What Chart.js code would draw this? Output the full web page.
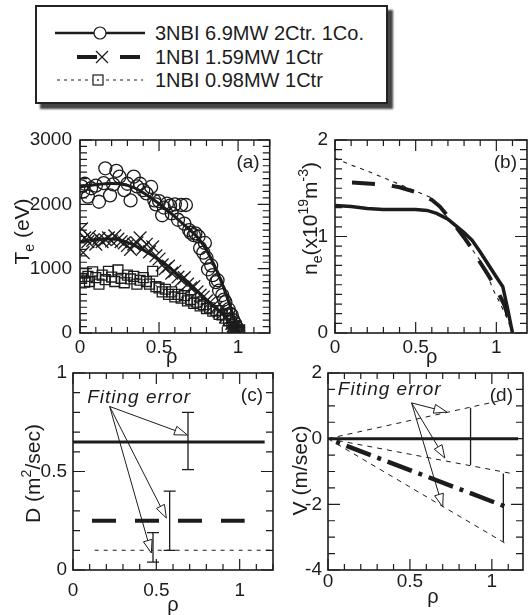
<!DOCTYPE html>
<html>
<head>
<meta charset="utf-8">
<script src="https://cdn.jsdelivr.net/npm/chart.js@4.4.1/dist/chart.umd.min.js"></script>
<style>
  body { margin: 0; background: #fff; width: 530px; height: 615px; position: relative; overflow: hidden; }
  canvas { position: absolute; }
  #legend { position: absolute; left: 35px; top: 5px; width: 349px; height: 95px;
            border: 2px solid #222; box-shadow: 5px 5px 2px #444; background: #fff; }
  #legend text { font: 20px "Liberation Sans", Arial, sans-serif; fill: #1c1c1c; }
</style>
</head>
<body>
<div id="legend">
  <svg width="349" height="95">
    <line x1="18" y1="26" x2="108" y2="26" stroke="#1c1c1c" stroke-width="2.5"/>
    <circle cx="63" cy="26" r="6" fill="#fff" stroke="#1c1c1c" stroke-width="1.2"/>
    <text x="118" y="26" dominant-baseline="central">3NBI 6.9MW 2Ctr. 1Co.</text>

    <line x1="40" y1="50" x2="60" y2="50" stroke="#1c1c1c" stroke-width="4"/>
    <path d="M59 44 L71 56 M71 44 L59 56" stroke="#1c1c1c" stroke-width="1.3"/>
    <line x1="83" y1="50" x2="103" y2="50" stroke="#1c1c1c" stroke-width="4"/>
    <text x="118" y="50" dominant-baseline="central">1NBI 1.59MW 1Ctr</text>

    <line x1="20" y1="73" x2="106" y2="73" stroke="#1c1c1c" stroke-width="1" stroke-dasharray="3,4"/>
    <rect x="56" y="68" width="10" height="10" fill="#fff" stroke="#1c1c1c" stroke-width="1.2"/>
    <circle cx="61" cy="73" r="0.9" fill="#1c1c1c"/>
    <text x="118" y="73" dominant-baseline="central">1NBI 0.98MW 1Ctr</text>
  </svg>
</div>
<canvas id="pa" width="280" height="252" style="left:0;top:120px"></canvas>
<canvas id="pb" width="250" height="252" style="left:280px;top:120px"></canvas>
<canvas id="pc" width="280" height="260" style="left:0;top:355px"></canvas>
<canvas id="pd" width="250" height="260" style="left:280px;top:355px"></canvas>
<script>
const FONT = '"Liberation Sans", Arial, Helvetica, sans-serif';
const INK = '#1c1c1c';

// shared x ticks (rho)
const xTicks = [0, 0.5, 1];

// ---- (a) electron temperature ----
const aYTicks = [0, 1000, 2000, 3000];
const aFitRho = [0, 0.05, 0.1, 0.15, 0.2, 0.25, 0.3, 0.35, 0.4, 0.45, 0.5, 0.55, 0.6, 0.65, 0.7, 0.75, 0.8, 0.85, 0.9, 0.95, 1.0];
const aFit3NBI = [2270, 2290, 2305, 2318, 2325, 2320, 2295, 2250, 2180, 2100, 2010, 1910, 1810, 1700, 1590, 1470, 1290, 1050, 760, 420, 0];
const aFit159 = [1420, 1440, 1455, 1462, 1460, 1445, 1410, 1355, 1290, 1215, 1135, 1045, 945, 840, 735, 630, 520, 410, 300, 170, 0];
const aFit098 = [880, 885, 890, 890, 885, 875, 865, 850, 830, 780, 710, 650, 590, 550, 510, 460, 400, 350, 290, 180, 0];

const circRho = [0.01, 0.02, 0.03, 0.05, 0.07, 0.10, 0.12, 0.15, 0.16, 0.19, 0.21, 0.23, 0.25, 0.28, 0.30, 0.32, 0.34, 0.36, 0.38, 0.40, 0.42, 0.45, 0.47, 0.48, 0.50, 0.52, 0.53, 0.55, 0.57, 0.58, 0.60, 0.62, 0.64, 0.66, 0.67, 0.69, 0.70, 0.72, 0.73, 0.75, 0.76, 0.78, 0.79, 0.80, 0.81, 0.83, 0.84, 0.86, 0.87, 0.88, 0.90, 0.91, 0.92, 0.94, 0.95, 0.96, 0.97, 0.98, 0.99, 1.00];
const circTe = [2280, 2200, 2320, 2120, 2250, 2290, 2040, 2330, 2560, 2140, 2310, 2520, 2430, 2220, 2320, 2060, 2430, 2280, 2320, 2220, 2170, 2270, 2060, 2000, 2050, 1830, 1950, 2010, 1980, 1860, 2000, 1760, 1990, 1700, 1990, 1600, 1560, 1520, 1550, 1500, 1320, 1250, 1400, 1170, 990, 1050, 900, 790, 820, 660, 590, 520, 480, 370, 300, 280, 200, 150, 90, 30];

const crossRho = [0.01, 0.02, 0.03, 0.05, 0.06, 0.08, 0.10, 0.12, 0.14, 0.16, 0.18, 0.20, 0.22, 0.24, 0.26, 0.28, 0.30, 0.32, 0.34, 0.36, 0.38, 0.40, 0.42, 0.44, 0.46, 0.48, 0.50, 0.52, 0.54, 0.56, 0.58, 0.60, 0.62, 0.64, 0.66, 0.68, 0.70, 0.72, 0.74, 0.76, 0.78, 0.80, 0.82, 0.84, 0.86, 0.88, 0.90, 0.92, 0.94, 0.96, 0.97, 0.98, 0.99, 1.00];
const crossTe = [1620, 1250, 1480, 1420, 1500, 1440, 1380, 1470, 1420, 1450, 1480, 1430, 1510, 1460, 1420, 1400, 1360, 1300, 1380, 1400, 1480, 1320, 1380, 1260, 1340, 1200, 1150, 1060, 1000, 1040, 930, 960, 870, 820, 860, 760, 700, 720, 640, 590, 560, 500, 470, 420, 390, 330, 300, 250, 200, 150, 110, 90, 50, 20];

const sqRho = [0.01, 0.02, 0.03, 0.05, 0.06, 0.08, 0.10, 0.12, 0.14, 0.16, 0.18, 0.20, 0.22, 0.24, 0.26, 0.28, 0.30, 0.32, 0.34, 0.36, 0.38, 0.40, 0.42, 0.44, 0.46, 0.48, 0.50, 0.52, 0.54, 0.56, 0.58, 0.60, 0.62, 0.64, 0.66, 0.68, 0.70, 0.72, 0.74, 0.76, 0.78, 0.80, 0.82, 0.84, 0.86, 0.88, 0.90, 0.92, 0.94, 0.96, 0.97, 0.98, 0.99, 1.00, 1.00, 1.01];
const sqTe = [850, 930, 790, 880, 800, 950, 860, 760, 900, 830, 960, 870, 800, 980, 850, 780, 900, 840, 880, 760, 820, 860, 800, 760, 960, 720, 700, 640, 680, 600, 640, 560, 600, 540, 580, 500, 520, 460, 480, 420, 440, 380, 390, 340, 350, 290, 280, 230, 190, 140, 90, 60, 100, 30, 10, 50];

// ---- (b) electron density ----
const bYTicks = [0, 1, 2];
const bSolidRho = [0, 0.1, 0.2, 0.3, 0.4, 0.5, 0.57, 0.63, 0.7, 0.75, 0.8, 0.85, 0.9, 0.95, 1.0, 1.04, 1.07, 1.1];
const bSolid = [1.32, 1.31, 1.29, 1.28, 1.28, 1.28, 1.27, 1.24, 1.18, 1.11, 1.04, 0.96, 0.84, 0.71, 0.58, 0.48, 0.25, 0];
const bDashRho = [0, 0.1, 0.2, 0.3, 0.4, 0.5, 0.6, 0.65, 0.7, 0.75, 0.8, 0.85, 0.9, 0.95, 1.0, 1.05, 1.1];
const bDash = [1.56, 1.56, 1.55, 1.54, 1.51, 1.46, 1.38, 1.31, 1.21, 1.10, 0.99, 0.87, 0.73, 0.60, 0.46, 0.29, 0.02];
const bDotRho = [0, 0.1, 0.2, 0.3, 0.4, 0.5, 0.6, 0.65, 0.7, 0.8, 0.9, 0.94, 0.98, 1.02, 1.07, 1.1];
const bDot = [1.81, 1.74, 1.68, 1.61, 1.54, 1.47, 1.40, 1.30, 1.19, 0.98, 0.75, 0.62, 0.45, 0.32, 0.14, 0];

// ---- (c) diffusion coefficient ----
const cYTicks = [0, 0.5, 1];
const cSolidRho = [0, 1.15], cSolid = [0.65, 0.65];
const cDashRho = [0, 1.03], cDash = [0.25, 0.25];
const cDotRho = [0.13, 1.19], cDot = [0.10, 0.10];
const cErrRho = [0.69, 0.58, 0.48];
const cErrLo = [0.51, 0.10, 0.04];
const cErrHi = [0.80, 0.40, 0.19];

// ---- (d) convection velocity ----
const dYTicks = [-4, -2, 0, 2];
const dSolidRho = [0, 1.16], dSolid = [0, 0];
const dMeanRho = [0.05, 1.11], dMean = [-0.10, -2.12];
const dUpRho = [0, 1.07], dUp = [0, 1.18];
const dMidRho = [0, 1.12], dMid = [0, -1.06];
const dLowRho = [0, 1.10], dLow = [0, -3.24];
const dErrRho = [0.87, 1.07];
const dErrLo = [-0.80, -3.14];
const dErrHi = [0.94, -1.06];

function pts(xs, ys) { return xs.map((x, i) => ({ x, y: ys[i] })); }

function lineSet(xs, ys, w, dash, extra) {
  return Object.assign({
    data: pts(xs, ys), borderColor: INK, borderWidth: w, borderDash: dash || [],
    pointRadius: 0, fill: false, tension: 0
  }, extra || {});
}

function markSet(xs, ys, style, r) {
  return {
    data: pts(xs, ys), showLine: false, pointStyle: style, pointRadius: r,
    pointBorderColor: INK, pointBorderWidth: 1.3, pointBackgroundColor: 'rgba(0,0,0,0)',
    borderColor: INK
  };
}

function tickList(min, max, step) {
  const out = [];
  const n0 = Math.ceil(min / step - 1e-6), n1 = Math.floor(max / step + 1e-6);
  for (let n = n0; n <= n1; n++) out.push(+(n * step).toFixed(6));
  return out;
}
function isMajor(v, step) { const q = v / step; return Math.abs(q - Math.round(q)) < 1e-6; }

// text with sub/superscripts, centred on (cx, cy)
function richText(ctx, segs, size, cx, cy, rot) {
  const fontFor = s => `${(s.sub || s.sup) ? Math.round(size * 0.68) : size}px ${FONT}`;
  let total = 0;
  for (const s of segs) { ctx.font = fontFor(s); total += ctx.measureText(s.t).width; }
  ctx.save();
  ctx.translate(cx, cy);
  ctx.rotate(rot);
  ctx.textAlign = 'left';
  ctx.textBaseline = 'alphabetic';
  ctx.fillStyle = INK;
  let x = -total / 2;
  const base = size * 0.36;
  for (const s of segs) {
    ctx.font = fontFor(s);
    const dy = s.sub ? size * 0.28 : s.sup ? -size * 0.42 : 0;
    ctx.fillText(s.t, x, base + dy);
    x += ctx.measureText(s.t).width;
  }
  ctx.restore();
}

function arrow(ctx, x0, y0, x1, y1) {
  const ang = Math.atan2(y1 - y0, x1 - x0), L = 13, W = 4.5;
  const bx = x1 - L * Math.cos(ang), by = y1 - L * Math.sin(ang);
  const px = -Math.sin(ang) * W, py = Math.cos(ang) * W;
  ctx.beginPath();
  ctx.moveTo(x0, y0); ctx.lineTo(bx, by);
  ctx.stroke();
  ctx.beginPath();
  ctx.moveTo(x1, y1); ctx.lineTo(bx + px, by + py); ctx.lineTo(bx - px, by - py); ctx.closePath();
  ctx.fillStyle = '#fff'; ctx.fill(); ctx.stroke();
  ctx.fillStyle = INK;
}

const deco = {
  id: 'deco',
  afterDraw(chart, args, o) {
    const { ctx, chartArea: a } = chart;
    const xs = chart.scales.x, ys = chart.scales.y;
    ctx.save();
    ctx.strokeStyle = INK;
    ctx.fillStyle = INK;

    // inward ticks on all four sides
    ctx.lineWidth = 1.2;
    ctx.beginPath();
    for (const v of tickList(xs.min, xs.max, o.xMinor)) {
      const p = xs.getPixelForValue(v), len = isMajor(v, o.xMajor) ? 11 : 6;
      ctx.moveTo(p, a.bottom); ctx.lineTo(p, a.bottom - len);
      ctx.moveTo(p, a.top); ctx.lineTo(p, a.top + len);
    }
    for (const v of tickList(ys.min, ys.max, o.yMinor)) {
      const p = ys.getPixelForValue(v), len = isMajor(v, o.yMajor) ? 12 : 7;
      ctx.moveTo(a.left, p); ctx.lineTo(a.left + len, p);
      ctx.moveTo(a.right, p); ctx.lineTo(a.right - len, p);
    }
    ctx.stroke();
    ctx.lineWidth = 1.6;
    ctx.strokeRect(a.left, a.top, a.right - a.left, a.bottom - a.top);

    // panel letter
    ctx.font = `19px ${FONT}`;
    ctx.textAlign = 'right';
    ctx.textBaseline = 'middle';
    ctx.fillText(o.label, a.right - 10, a.top + 23);

    // axis titles
    richText(ctx, o.yTitle.segs, 21, a.left - o.yTitle.dx, (a.top + a.bottom) / 2 + o.yTitle.dy, -Math.PI / 2);
    ctx.font = `20px ${FONT}`;
    ctx.textAlign = 'center';
    ctx.textBaseline = 'middle';
    ctx.fillText('\u03C1', xs.getPixelForValue(o.xTitle.at), a.bottom + o.xTitle.dy);

    // fitting error bars
    if (o.err) {
      ctx.lineWidth = 1.3;
      ctx.beginPath();
      o.err.rho.forEach((r, i) => {
        const px = xs.getPixelForValue(r);
        const lo = ys.getPixelForValue(o.err.lo[i]), hi = ys.getPixelForValue(o.err.hi[i]);
        ctx.moveTo(px, lo); ctx.lineTo(px, hi);
        if (o.err.cap) {
          ctx.moveTo(px - o.err.cap, lo); ctx.lineTo(px + o.err.cap, lo);
          ctx.moveTo(px - o.err.cap, hi); ctx.lineTo(px + o.err.cap, hi);
        }
      });
      ctx.stroke();
    }

    // "Fiting error" note with arrows
    if (o.note) {
      ctx.font = `italic 19px ${FONT}`;
      if ('letterSpacing' in ctx) ctx.letterSpacing = '1px';
      ctx.textAlign = 'left';
      ctx.textBaseline = 'middle';
      ctx.fillText(o.note.text, xs.getPixelForValue(o.note.at[0]), ys.getPixelForValue(o.note.at[1]));
      if ('letterSpacing' in ctx) ctx.letterSpacing = '0px';
      ctx.lineWidth = 1;
      const fx = xs.getPixelForValue(o.note.from[0]), fy = ys.getPixelForValue(o.note.from[1]);
      for (const t of o.note.to) {
        arrow(ctx, fx, fy, xs.getPixelForValue(t[0]), ys.getPixelForValue(t[1]));
      }
    }
    ctx.restore();
  }
};

function panel(id, o) {
  const tickFont = { size: 19, family: FONT };
  return new Chart(document.getElementById(id), {
    type: 'line',
    data: { datasets: o.datasets },
    options: {
      responsive: false,
      animation: false,
      devicePixelRatio: 1,
      layout: { padding: { top: o.padTop, right: o.padRight, left: 0, bottom: 0 } },
      plugins: { legend: { display: false }, tooltip: { enabled: false }, deco: o.deco },
      scales: {
        x: {
          type: 'linear', min: 0, max: o.xMax,
          grid: { display: false, drawTicks: false }, border: { display: false },
          ticks: { font: tickFont, color: INK, padding: o.xPad, maxRotation: 0, autoSkip: false, callback: v => String(v) },
          afterBuildTicks: s => { s.ticks = xTicks.map(v => ({ value: v })); },
          afterFit: s => { s.height = o.xH; }
        },
        y: {
          type: 'linear', min: o.yMin, max: o.yMax,
          grid: { display: false, drawTicks: false }, border: { display: false },
          ticks: { font: tickFont, color: INK, padding: o.yPad, autoSkip: false, callback: v => String(v) },
          afterBuildTicks: s => { s.ticks = o.yTicks.map(v => ({ value: v })); },
          afterFit: s => { s.width = o.yW; }
        }
      }
    },
    plugins: [deco]
  });
}

// (a)
panel('pa', {
  xMax: 1.2, yMin: 0, yMax: 3000, yTicks: aYTicks,
  padTop: 20, padRight: 7, yW: 80, xH: 39, xPad: 3, yPad: 8,
  datasets: [
    lineSet(aFitRho, aFit3NBI, 3, [], { cubicInterpolationMode: 'monotone' }),
    lineSet(aFitRho, aFit159, 3, [], { cubicInterpolationMode: 'monotone' }),
    lineSet(aFitRho, aFit098, 1, [3, 4], { cubicInterpolationMode: 'monotone' }),
    markSet(circRho, circTe, 'circle', 6.5),
    markSet(crossRho, crossTe, 'crossRot', 9),
    markSet(sqRho, sqTe, 'rect', 7)
  ],
  deco: {
    label: '(a)', xMinor: 0.1, xMajor: 0.5, yMinor: 100, yMajor: 1000,
    yTitle: { segs: [{ t: 'T' }, { t: 'e', sub: 1 }, { t: ' (eV)' }], dx: 59, dy: -5 },
    xTitle: { at: 0.58, dy: 24 }
  }
});

// (b)
panel('pb', {
  xMax: 1.19, yMin: 0, yMax: 2, yTicks: bYTicks,
  padTop: 20, padRight: 3, yW: 55, xH: 39, xPad: 3, yPad: 7,
  datasets: [
    lineSet(bSolidRho, bSolid, 3.5, []),
    lineSet(bDashRho, bDash, 4, [23, 17], { borderDashOffset: 23 }),
    lineSet(bDotRho, bDot, 1.1, [4, 5])
  ],
  deco: {
    label: '(b)', xMinor: 0.1, xMajor: 0.5, yMinor: 0.1, yMajor: 1,
    yTitle: { segs: [{ t: 'n' }, { t: 'e', sub: 1 }, { t: '(x10' }, { t: '19', sup: 1 }, { t: 'm' }, { t: '-3', sup: 1 }, { t: ')' }], dx: 26, dy: -18 },
    xTitle: { at: 0.6, dy: 24 }
  }
});

// (c)
panel('pc', {
  xMax: 1.2, yMin: 0, yMax: 1, yTicks: cYTicks,
  padTop: 18, padRight: 7, yW: 73, xH: 45, xPad: 9, yPad: 6,
  datasets: [
    lineSet(cSolidRho, cSolid, 3, []),
    lineSet(cDashRho, cDash, 4, [24, 19], { borderDashOffset: 24 }),
    lineSet(cDotRho, cDot, 1.1, [4, 5])
  ],
  deco: {
    label: '(c)', xMinor: 0.1, xMajor: 0.5, yMinor: 0.1, yMajor: 0.5,
    yTitle: { segs: [{ t: 'D (m' }, { t: '2', sup: 1 }, { t: '/sec)' }], dx: 41, dy: 2 },
    xTitle: { at: 0.6, dy: 35 },
    err: { rho: cErrRho, lo: cErrLo, hi: cErrHi, cap: 6 },
    note: { text: 'Fiting error', at: [0.085, 0.875], from: [0.22, 0.83], to: [[0.687, 0.685], [0.56, 0.264], [0.47, 0.086]] }
  }
});

// (d)
panel('pd', {
  xMax: 1.19, yMin: -4, yMax: 2, yTicks: dYTicks,
  padTop: 18, padRight: 7, yW: 48, xH: 45, xPad: 0, yPad: 6,
  datasets: [
    lineSet(dSolidRho, dSolid, 3, []),
    lineSet(dMeanRho, dMean, 4.5, [4, 7, 26, 7]),
    lineSet(dUpRho, dUp, 1, [5, 5]),
    lineSet(dMidRho, dMid, 1, [5, 5]),
    lineSet(dLowRho, dLow, 1, [5, 5])
  ],
  deco: {
    label: '(d)', xMinor: 0.1, xMajor: 0.5, yMinor: 0.5, yMajor: 2,
    yTitle: { segs: [{ t: 'V (m/sec)' }], dx: 29, dy: -1 },
    xTitle: { at: 0.64, dy: 27 },
    err: { rho: dErrRho, lo: dErrLo, hi: dErrHi, cap: 0 },
    note: { text: 'Fiting error', at: [0.06, 1.48], from: [0.51, 1.09], to: [[0.726, 0.81], [0.713, -0.59], [0.70, -2.08]] }
  }
});
</script>
</body>
</html>
